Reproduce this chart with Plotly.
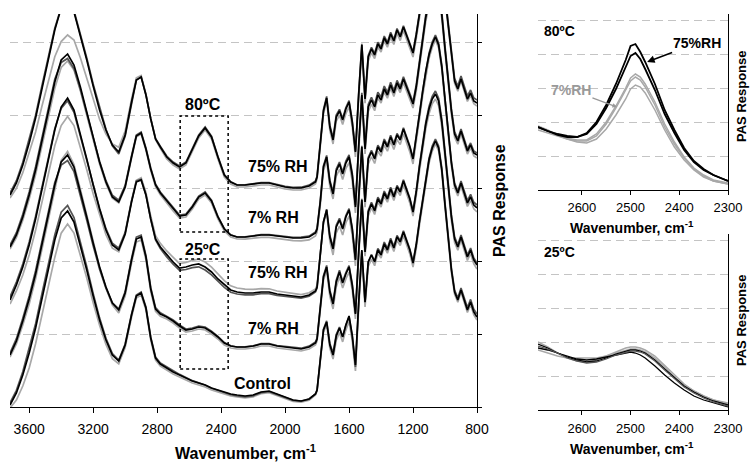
import numpy as np
import plotly.graph_objects as go

# ---------------- main panel data (PAS response, arbitrary units) ----------------
wavenumber = [3720, 3680, 3640, 3600, 3560, 3520, 3480, 3440, 3400, 3360, 3320, 3280, 3240, 3200,
              3160, 3120, 3080, 3040, 3000, 2960, 2930, 2900, 2870, 2840, 2810,
              2780, 2740, 2700, 2660, 2620, 2580, 2540, 2500, 2460, 2420, 2380, 2340, 2300,
              2250, 2200, 2150, 2100, 2050, 2000, 1950, 1900, 1850, 1810,
              1800, 1780, 1760, 1740, 1720, 1700, 1680, 1660, 1640, 1620, 1600, 1580, 1560,
              1540, 1520, 1500, 1480, 1460, 1440, 1420, 1400, 1380, 1360, 1340, 1320, 1300,
              1280, 1260, 1240, 1220, 1200, 1180, 1160, 1140, 1120, 1100, 1080, 1060, 1040,
              1020, 1000, 980, 960, 940, 920, 900, 880, 860, 840, 820, 800]

control = [2, 14, 32, 54, 79, 109, 139, 167, 189, 196, 185, 162, 137, 111, 87, 67, 52, 46, 62, 92,
           111, 114, 99, 69, 49,
           43, 39, 35, 32, 29, 26, 24, 22, 19, 17, 15, 13, 12, 11, 12, 15, 16, 13, 10, 7, 6, 8, 13,
           17, 47, 77, 85, 62, 52, 71, 79, 70, 82, 91, 72, 42, 104, 157, 105, 145, 152, 145, 157,
           152, 163, 157, 167, 159, 170, 165, 175, 167, 157, 144, 162, 185, 207, 229, 247, 259,
           266, 259, 237, 202, 172, 137, 115, 107, 117, 107, 97, 105, 95, 90]

rh7_25c = [52, 66, 86, 108, 133, 163, 193, 222, 245, 252, 240, 216, 190, 164, 140, 120, 104, 97,
           114, 147, 168, 170, 150, 118, 98,
           93, 90, 86, 81, 77, 78, 80, 79, 75, 70, 64, 61, 60, 60, 61, 63, 63, 61, 60, 59, 58, 60, 64,
           68, 100, 130, 140, 115, 103, 125, 135, 124, 133, 140, 122, 93, 154, 207, 155, 195, 203,
           196, 208, 203, 214, 208, 218, 210, 220, 215, 226, 218, 208, 195, 215, 240, 262, 283,
           298, 308, 313, 306, 285, 252, 222, 190, 168, 160, 170, 160, 150, 157, 147, 142]

rh75_25c = [107, 122, 140, 162, 188, 218, 248, 277, 300, 309, 297, 273, 248, 222, 198, 177, 162,
            157, 173, 205, 225, 227, 212, 188, 168,
            160, 152, 145, 139, 140, 142, 143, 140, 135, 128, 122, 117, 115, 114, 114, 115, 115,
            113, 112, 111, 110, 112, 116,
            120, 150, 185, 197, 170, 158, 180, 187, 178, 190, 197, 178, 147, 208, 260, 205, 248,
            255, 248, 260, 255, 266, 260, 270, 262, 272, 267, 278, 270, 260, 248, 268, 292, 315,
            336, 352, 363, 370, 362, 340, 306, 276, 244, 222, 214, 224, 214, 204, 210, 202, 199]

rh7_80c = [160, 172, 190, 212, 237, 267, 297, 325, 347, 353, 342, 320, 295, 269, 245, 225, 210,
           205, 220, 250, 271, 274, 258, 238, 222,
           214, 206, 198, 191, 192, 200, 210, 214, 206, 190, 178, 172, 170, 170, 171, 172, 172,
           171, 170, 169, 169, 170, 174,
           178, 205, 240, 250, 225, 213, 236, 243, 233, 244, 250, 232, 200, 260, 312, 258, 300,
           307, 300, 312, 307, 318, 312, 322, 314, 324, 318, 328, 320, 312, 303, 320, 345, 368,
           390, 405, 415, 422, 414, 392, 358, 327, 296, 273, 266, 276, 266, 256, 262, 254, 252]

rh75_80c = [212, 224, 242, 264, 289, 319, 349, 377, 399, 406, 395, 372, 347, 321, 297, 277, 262,
            255, 272, 305, 327, 330, 312, 288, 268,
            260, 250, 244, 240, 244, 257, 271, 279, 270, 250, 232, 225, 222, 222, 223, 224, 224,
            222, 220, 219, 219, 221, 225,
            230, 262, 296, 309, 280, 267, 290, 296, 287, 298, 305, 285, 255, 312, 362, 308, 350,
            358, 352, 363, 358, 369, 363, 373, 366, 377, 370, 380, 372, 363, 354, 372, 396, 420,
            440, 455, 465, 472, 465, 443, 410, 380, 350, 326, 318, 328, 318, 308, 314, 306, 304]

# replicate deviations from the black spectrum, read at a few wavenumbers
rep_wn = [3720, 3600, 3450, 3380, 3300, 3150, 3050, 2920, 2750, 2500, 2300, 1800, 1700, 1560,
          1400, 1200, 1060, 900, 800]
control_dark = [2, 4, 5, 6, 4, 2, 1, 1, 1, 0, -1, 0, 2, -2, 2, 1, 2, 2, 3]
control_gray = [-3, -15, -18, -14, -10, -5, -3, -2, -2, -2, -2, -1, -4, -6, -3, -4, -3, -2, -3]
rh7_25c_dark = [2, 3, 4, -6, -4, -2, 1, 2, 1, 1, 0, 1, 2, 1, 2, 1, 3, 2, 2]
rh7_25c_gray = [-2, -5, -4, 4, 2, 0, -3, -3, -2, -2, -2, -2, -5, -5, -3, -4, -5, -3, -4]
rh75_25c_dark = [3, 3, 2, -3, -2, 1, 2, 1, -2, -3, -2, -1, 2, 1, 2, 1, 2, 2, 3]
rh75_25c_gray = [-4, -10, -15, -20, -14, -6, -2, 2, 4, 5, 4, 2, -6, -6, -4, -5, -3, -3, -4]
rh7_80c_dark = [2, 3, 4, -5, -3, 1, 2, 1, 1, 1, 0, 1, 2, 2, 3, 2, 3, 2, 2]
rh7_80c_gray = [-2, -4, -6, -8, -4, -2, -1, -1, -2, -2, -2, -3, -5, -6, -3, -4, -4, -3, -3]
rh75_80c_dark = [2, 3, 2, 0, 2, 2, -2, 0, 1, 1, 0, 1, 2, 1, 2, 1, 2, 3, 3]
rh75_80c_gray = [-3, -10, -25, -37, -25, -8, 5, 2, -2, -2, -2, -2, -4, -5, -3, -4, -3, -2, -3]

x_ticks = [3600, 3200, 2800, 2400, 2000, 1600, 1200, 800]

# ---------------- inset data ----------------
inset_wn = [2690, 2670, 2650, 2630, 2610, 2590, 2570, 2550, 2530, 2510, 2500, 2490, 2480, 2470,
            2450, 2430, 2410, 2390, 2370, 2350, 2330, 2310, 2300]
hot_75_a = [63, 59, 55, 53, 53, 57, 68, 85, 106, 130, 144, 146, 138, 128, 106, 80, 60, 42, 29, 21, 15, 11, 9]
hot_75_b = [63, 59, 56, 54, 53, 56, 66, 82, 101, 122, 134, 137, 131, 121, 100, 76, 57, 40, 28, 20, 15, 11, 9]
hot_7_a = [62, 59, 56, 52, 50, 50, 56, 68, 84, 102, 112, 116, 113, 106, 88, 66, 48, 33, 22, 15, 10, 8, 7]
hot_7_b = [64, 60, 55, 51, 49, 49, 54, 66, 82, 99, 109, 113, 110, 103, 85, 63, 46, 32, 21, 14, 9, 7, 6]
hot_7_c = [60, 57, 54, 51, 48, 47, 51, 61, 75, 91, 101, 105, 103, 97, 80, 60, 43, 30, 20, 13, 9, 7, 6]

cool_75_a = [66, 62, 57, 53, 50, 48, 49, 52, 56, 59, 60, 60, 59, 57, 50, 41, 32, 24, 18, 13, 9, 6, 5]
cool_75_b = [62, 60, 57, 54, 51, 50, 51, 53, 55, 57, 58, 57, 55, 52, 44, 35, 27, 20, 14, 10, 7, 4, 3]
cool_75_c = [64, 61, 57, 52, 49, 47, 48, 51, 55, 58, 59, 59, 58, 56, 49, 40, 31, 23, 17, 12, 8, 5, 4]
cool_7_a = [68, 63, 57, 52, 49, 48, 50, 54, 58, 62, 63, 63, 62, 60, 54, 45, 35, 26, 19, 14, 10, 7, 6]
cool_7_b = [60, 57, 54, 52, 52, 52, 52, 54, 57, 60, 61, 61, 60, 58, 52, 43, 33, 25, 19, 14, 10, 8, 7]
inset_ticks = [2600, 2500, 2400, 2300]

for arr in (control, rh7_25c, rh75_25c, rh7_80c, rh75_80c):
    assert len(arr) == len(wavenumber), len(arr)
for arr in (hot_75_a, hot_75_b, hot_7_a, hot_7_b, hot_7_c, cool_75_a, cool_75_b, cool_75_c,
            cool_7_a, cool_7_b):
    assert len(arr) == len(inset_wn), len(arr)

FONT = "Liberation Sans, Arial, sans-serif"
BLACK = "#000000"
DARK = "#555555"
GRAY = "#a8a8a8"
GRID = "#c4c4c4"

fig = go.Figure()

wn = np.array(wavenumber, dtype=float)
rw = np.array(rep_wn[::-1], dtype=float)


def rep(base, dev):
    return (np.array(base, dtype=float) + np.interp(wn, rw, np.array(dev[::-1], dtype=float))).tolist()


groups = [
    (control, control_dark, control_gray),
    (rh7_25c, rh7_25c_dark, rh7_25c_gray),
    (rh75_25c, rh75_25c_dark, rh75_25c_gray),
    (rh7_80c, rh7_80c_dark, rh7_80c_gray),
    (rh75_80c, rh75_80c_dark, rh75_80c_gray),
]
for base, dark, gray in groups:
    fig.add_trace(go.Scatter(x=wavenumber, y=rep(base, gray), mode="lines",
                             line=dict(color=GRAY, width=1.7), xaxis="x", yaxis="y"))
    fig.add_trace(go.Scatter(x=wavenumber, y=rep(base, dark), mode="lines",
                             line=dict(color=DARK, width=1.7), xaxis="x", yaxis="y"))
    fig.add_trace(go.Scatter(x=wavenumber, y=base, mode="lines",
                             line=dict(color=BLACK, width=1.7), xaxis="x", yaxis="y"))

for s in (hot_7_a, hot_7_b, hot_7_c):
    fig.add_trace(go.Scatter(x=inset_wn, y=s, mode="lines", line=dict(color=GRAY, width=1.5),
                             xaxis="x2", yaxis="y2"))
for s in (hot_75_a, hot_75_b):
    fig.add_trace(go.Scatter(x=inset_wn, y=s, mode="lines", line=dict(color=BLACK, width=1.8),
                             xaxis="x2", yaxis="y2"))
for s in (cool_7_a, cool_7_b):
    fig.add_trace(go.Scatter(x=inset_wn, y=s, mode="lines", line=dict(color=GRAY, width=1.5),
                             xaxis="x3", yaxis="y3"))
for s, c in ((cool_75_a, BLACK), (cool_75_b, BLACK), (cool_75_c, DARK)):
    fig.add_trace(go.Scatter(x=inset_wn, y=s, mode="lines", line=dict(color=c, width=1.3),
                             xaxis="x3", yaxis="y3"))

W, H = 751, 463
main_x = [10 / W, 477 / W]
main_y = [1 - 407 / H, 1 - 14 / H]
ins_x = [538 / W, 728 / W]
top_y = [1 - 190 / H, 1 - 14 / H]
bot_y = [1 - 410 / H, 1 - 234 / H]

axis_common = dict(showline=True, linecolor=BLACK, linewidth=1, zeroline=False, mirror=False,
                   automargin=False)
DASH = "8px,5px"

fig.update_layout(
    width=W, height=H, margin=dict(l=0, r=0, t=0, b=0, autoexpand=False),
    paper_bgcolor="white", plot_bgcolor="white", showlegend=False,
    font=dict(family=FONT, color=BLACK),
    xaxis=dict(domain=main_x, range=[3720, 800], anchor="y", tickvals=x_ticks, ticks="outside",
               ticklen=5, tickcolor=BLACK, showgrid=False, tickfont=dict(size=14, family=FONT),
               ticklabelstandoff=4, **axis_common),
    yaxis=dict(domain=main_y, range=[0, 393], anchor="x", side="right", tick0=0, dtick=73,
               ticks="outside", ticklen=4, tickcolor=BLACK, showticklabels=False, showgrid=True,
               gridcolor=GRID, griddash=DASH, gridwidth=1, **axis_common),
    xaxis2=dict(domain=ins_x, range=[2690, 2300], anchor="y2", tickvals=inset_ticks,
                ticks="outside", ticklen=4, tickcolor=BLACK, showgrid=False,
                tickfont=dict(size=13, family=FONT), ticklabelstandoff=1, **axis_common),
    yaxis2=dict(domain=top_y, range=[0, 176], anchor="x2", side="right", tick0=0, dtick=34,
                ticks="", showticklabels=False, showgrid=True, gridcolor=GRID, griddash=DASH,
                gridwidth=1, **axis_common),
    xaxis3=dict(domain=ins_x, range=[2690, 2300], anchor="y3", tickvals=inset_ticks,
                ticks="outside", ticklen=4, tickcolor=BLACK, showgrid=False,
                tickfont=dict(size=13, family=FONT), ticklabelstandoff=2, **axis_common),
    yaxis3=dict(domain=bot_y, range=[0, 176], anchor="x3", side="right", tick0=0, dtick=34,
                ticks="", showticklabels=False, showgrid=True, gridcolor=GRID, griddash=DASH,
                gridwidth=1, **axis_common),
)

# dotted boxes marking the inset regions
for y0, y1 in ((175, 291), (38, 148)):
    fig.add_shape(type="rect", xref="x", yref="y", x0=2656, x1=2356, y0=y0, y1=y1,
                  line=dict(color=BLACK, width=1.5, dash="dot"))

main_labels = [
    ("80ºC", 2512, 302), ("75% RH", 2044, 240), ("7% RH", 2075, 189),
    ("25ºC", 2512, 157), ("75% RH", 2044, 135), ("7% RH", 2075, 79), ("Control", 2144, 24),
]
for txt, x, y in main_labels:
    fig.add_annotation(x=x, y=y, xref="x", yref="y", text=f"<b>{txt}</b>", showarrow=False,
                       font=dict(size=16, family=FONT, color=BLACK))

titles = [
    ("<b>Wavenumber, cm<sup>-1</sup></b>", 245, 452, 0, 16),
    ("<b>PAS Response</b>", 499, 200, -90, 16),
    ("<b>Wavenumber, cm<sup>-1</sup></b>", 632, 227, 0, 14),
    ("<b>Wavenumber, cm<sup>-1</sup></b>", 632, 448, 0, 14),
    ("<b>PAS Response</b>", 741, 96, -90, 13),
    ("<b>PAS Response</b>", 741, 320, -90, 13),
]
for txt, px, py, ang, sz in titles:
    fig.add_annotation(x=px / W, y=1 - py / H, xref="paper", yref="paper", text=txt,
                       showarrow=False, textangle=ang, xanchor="center", yanchor="middle",
                       font=dict(size=sz, family=FONT, color=BLACK))

# inset labels
fig.add_annotation(x=2645, y=159, xref="x2", yref="y2", text="<b>80ºC</b>", showarrow=False,
                   font=dict(size=14, family=FONT, color=BLACK))
fig.add_annotation(x=2645, y=158, xref="x3", yref="y3", text="<b>25ºC</b>", showarrow=False,
                   font=dict(size=14, family=FONT, color=BLACK))
fig.add_annotation(x=2466, y=128, xref="x2", yref="y2", text="<b>75%RH</b>", showarrow=True,
                   ax=50, ay=-19, arrowhead=2, arrowsize=1, arrowwidth=1.5, arrowcolor=BLACK,
                   font=dict(size=14, family=FONT, color=BLACK))
fig.add_annotation(x=2528, y=83, xref="x2", yref="y2", text="<b>7%RH</b>", showarrow=True,
                   ax=-46, ay=-17, arrowhead=2, arrowsize=0.7, arrowwidth=1.3,
                   arrowcolor="#999999", font=dict(size=14, family=FONT, color="#999999"))

fig.write_html("out.html")
